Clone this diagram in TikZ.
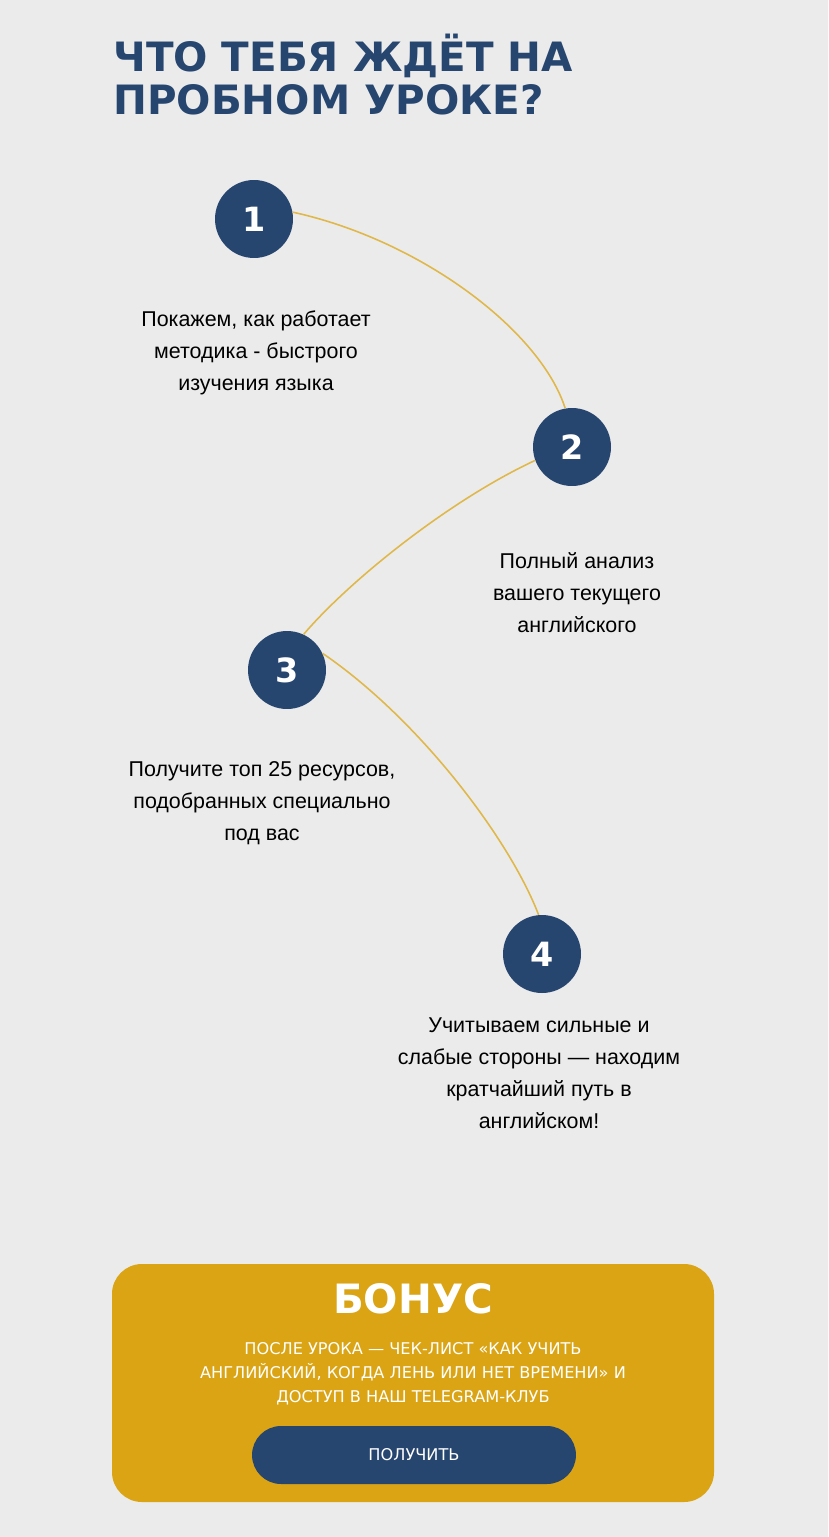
\documentclass[tikz,border=0pt]{standalone}
\usepackage{fontspec}
\setmainfont{Liberation Sans}
\newfontfamily\headfont{DejaVu Sans}
\usetikzlibrary{positioning}
\definecolor{navy}{HTML}{27466F}
\definecolor{gold}{HTML}{E0B84A}
\definecolor{bonus}{HTML}{DAA415}
\definecolor{bg}{HTML}{EBEBEB}
\tikzset{
  stepnum/.style={circle,fill=navy,minimum size=1.56cm,inner sep=0pt,text=white,font=\headfont\bfseries\fontsize{19}{19}\selectfont},
  steptext/.style={align=center,font=\fontsize{12.2}{18.2}\selectfont},
  link/.style={gold,line width=0.9pt},
  boxtext/.style={text=white,align=center,font=\headfont\fontsize{9.2}{13.6}\selectfont}
}
\begin{document}
\begin{tikzpicture}[x=0.02cm,y=-0.02cm]
  \fill[bg] (0,0) rectangle (828,1537);
  \useasboundingbox (0,0) rectangle (828,1537);
  % title
  \node[anchor=north west,inner sep=0pt,text=navy,align=left,
    font=\headfont\bfseries\fontsize{23}{24.5}\selectfont] (title) at (113,34)
    {ЧТО ТЕБЯ ЖДЁТ НА\\ПРОБНОМ УРОКЕ?};
  % steps
  \node[stepnum] (s1) at (254,219) {1};
  \node[stepnum] (s2) at (572,447) {2};
  \node[stepnum] (s3) at (287,670) {3};
  \node[stepnum] (s4) at (542,954) {4};
  \node[steptext] (t1) at (256,353) {Покажем, как работает\\методика - быстрого\\изучения языка};
  \node[steptext] (t2) at (577,593) {Полный анализ\\вашего текущего\\английского};
  \node[steptext] (t3) at (262,803) {Получите топ 25 ресурсов,\\подобранных специально\\под вас};
  \node[steptext] (t4) at (539,1073) {Учитываем сильные и\\слабые стороны — находим\\кратчайший путь в\\английском!};
  % connectors
  \draw[link] (s1.10) .. controls (420,240) and (540,330) .. (s2.100);
  \draw[link] (s2.200) .. controls (450,500) and (350,580) .. (s3.65);
  \draw[link] (s3.25) .. controls (420,720) and (510,840) .. (s4.95);
  % bonus
  \fill[bonus,rounded corners=0.6cm] (112,1264) rectangle (714,1502);
  \node[text=white,font=\headfont\bfseries\fontsize{23}{23}\selectfont] (bt) at (413,1299) {БОНУС};
  \node[boxtext] (bx) at (413,1374) {ПОСЛЕ УРОКА — ЧЕК-ЛИСТ «КАК УЧИТЬ\\АНГЛИЙСКИЙ, КОГДА ЛЕНЬ ИЛИ НЕТ ВРЕМЕНИ» И\\ДОСТУП В НАШ TELEGRAM-КЛУБ};
  \node[fill=navy,rounded corners=0.58cm,minimum width=6.48cm,minimum height=1.16cm,
    boxtext] (btn) at (414,1455) {ПОЛУЧИТЬ};
\end{tikzpicture}
\end{document}
